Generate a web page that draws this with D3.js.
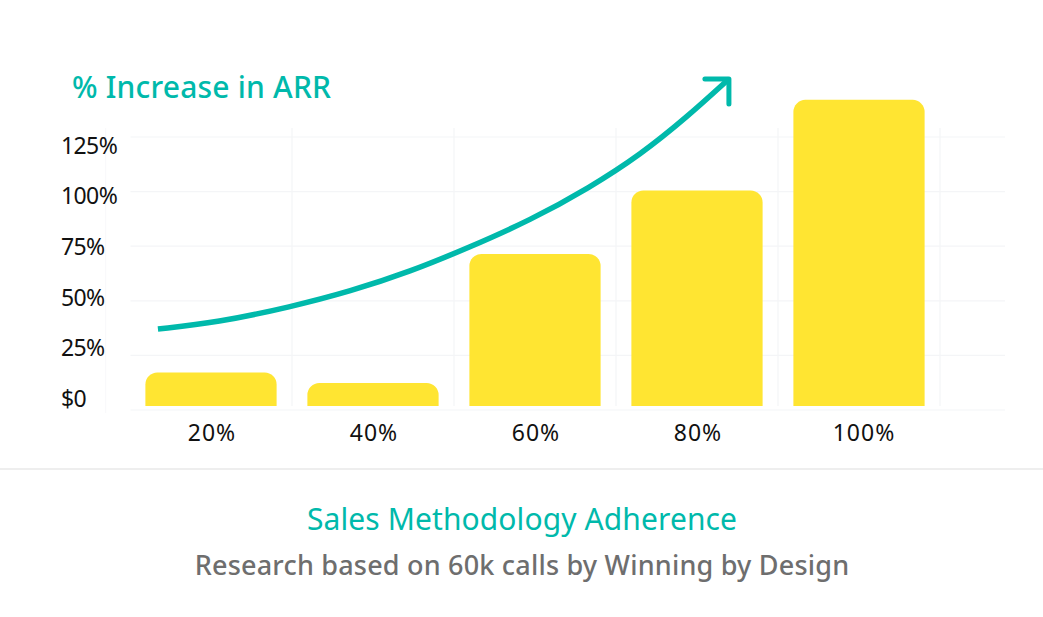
<!DOCTYPE html>
<html>
<head>
<meta charset="utf-8">
<script src="https://cdn.jsdelivr.net/npm/d3@7"></script>
<style>
  html, body { margin: 0; padding: 0; background: #fff; }
  svg { display: block; font-family: "Noto Sans", sans-serif; }
  .domain { display: none; }
</style>
</head>
<body>
<svg id="chart" width="1043" height="617"></svg>
<script>
var categories = ['20%', '40%', '60%', '80%', '100%'];
var increase = [17.2, 12.4, 71.4, 100.5, 142];
var yTicks = [0, 25, 50, 75, 100, 125];
var yLabels = ['$0', '25%', '50%', '75%', '100%', '125%'];

// trend arrow (adherence %, increase %)
var trendX = [13.5, 20.75, 30, 37.2, 44.6, 52, 59.4, 66.8, 73, 78.8, 83.95];
var trendY = [37.1, 40, 47.3, 54.3, 63.3, 74.6, 86.8, 101.9, 116.8, 134.2, 151.6];

var teal = '#00b9ab', yellow = '#ffe532', gridColor = '#f4f5f7';

var svg = d3.select('#chart');

var x = d3.scaleBand().domain(categories).range([130, 940])
  .paddingInner(0.19).paddingOuter(0.095);
var y = d3.scaleLinear().domain([0, 125]).range([410, 137]);
var yLabelPos = d3.scalePoint().domain(yLabels).range([398, 145]);
// the curve runs on a continuous adherence axis
var xTrend = d3.scaleLinear().domain([20, 100]).range([210.6, 859]);

// grid
svg.append('g').selectAll('line')
  .data(yTicks)
  .join('line')
  .attr('x1', 130.5).attr('x2', 1005)
  .attr('y1', function(d) { return y(d); })
  .attr('y2', function(d) { return y(d); })
  .attr('stroke', gridColor).attr('stroke-width', 1.2);

var gridX = categories.map(function(c) { return x(c) + x.bandwidth() + x.step() * 0.095; });
svg.append('g').selectAll('line')
  .data(gridX)
  .join('line')
  .attr('x1', function(d) { return d; })
  .attr('x2', function(d) { return d; })
  .attr('y1', 128).attr('y2', 406)
  .attr('stroke', gridColor).attr('stroke-width', 1.2);
svg.append('line')
  .attr('x1', 105.7).attr('x2', 105.7).attr('y1', 128).attr('y2', 413)
  .attr('stroke', '#f8f8fa').attr('stroke-width', 1);

// bars, rounded on top only, stopping short of the baseline
var barBottom = y(0) - 4, r = 12;
svg.append('g').selectAll('path')
  .data(increase)
  .join('path')
  .attr('fill', yellow)
  .attr('d', function(d, i) {
    var x0 = x(categories[i]), x1 = x0 + x.bandwidth(), t = y(d);
    var rr = Math.min(r, barBottom - t);
    return 'M' + x0 + ',' + barBottom + 'V' + (t + rr) +
      'A' + rr + ',' + rr + ' 0 0 1 ' + (x0 + rr) + ',' + t +
      'H' + (x1 - rr) +
      'A' + rr + ',' + rr + ' 0 0 1 ' + x1 + ',' + (t + rr) +
      'V' + barBottom + 'Z';
  });

// axes
var xAxis = svg.append('g')
  .attr('transform', 'translate(0,427)')
  .call(d3.axisBottom(x).tickSize(0).tickPadding(0));
xAxis.selectAll('text')
  .attr('font-size', 23).attr('font-family', '"Noto Sans", sans-serif')
  .attr('letter-spacing', 1)
  .attr('fill', '#111').attr('dy', '0.62em')
  .attr('dx', function(d) { return d === '100%' ? 5 : 1; });

var yAxis = svg.append('g')
  .call(d3.axisLeft(yLabelPos).tickSize(0).tickPadding(0));
yAxis.selectAll('text')
  .attr('text-anchor', 'start').attr('x', 61)
  .attr('font-size', 23).attr('font-family', '"Noto Sans", sans-serif')
  .attr('letter-spacing', -0.6)
  .attr('fill', '#111').attr('dy', '0.36em');

// trend arrow
var trendLine = d3.line()
  .x(function(d) { return xTrend(d[0]); })
  .y(function(d) { return y(d[1]); })
  .curve(d3.curveBasis);

svg.append('path')
  .attr('d', trendLine(d3.zip(trendX, trendY)))
  .attr('fill', 'none').attr('stroke', teal).attr('stroke-width', 5.5);

var tip = [xTrend(trendX[trendX.length - 1]), y(trendY[trendY.length - 1])];
svg.append('path')
  .attr('d', 'M' + (tip[0] - 24) + ',' + tip[1] + 'H' + tip[0] + 'V' + (tip[1] + 25))
  .attr('fill', 'none').attr('stroke', teal).attr('stroke-width', 5)
  .attr('stroke-linecap', 'round').attr('stroke-linejoin', 'round');

// titles
svg.append('text').attr('x', 72).attr('y', 98)
  .attr('font-size', 30).attr('font-weight', 500).attr('letter-spacing', 0.2)
  .attr('fill', teal).text('% Increase in ARR');

svg.append('line').attr('x1', 0).attr('x2', 1043).attr('y1', 469).attr('y2', 469)
  .attr('stroke', '#e9e9e9').attr('stroke-width', 1.5);

svg.append('text').attr('x', 522).attr('y', 530).attr('text-anchor', 'middle')
  .attr('font-size', 30).attr('letter-spacing', 0.1)
  .attr('fill', teal).text('Sales Methodology Adherence');

svg.append('text').attr('x', 522).attr('y', 575).attr('text-anchor', 'middle')
  .attr('font-size', 27).attr('font-weight', 500).attr('letter-spacing', 0.2)
  .attr('fill', '#6e6e6e').text('Research based on 60k calls by Winning by Design');
</script>
</body>
</html>
